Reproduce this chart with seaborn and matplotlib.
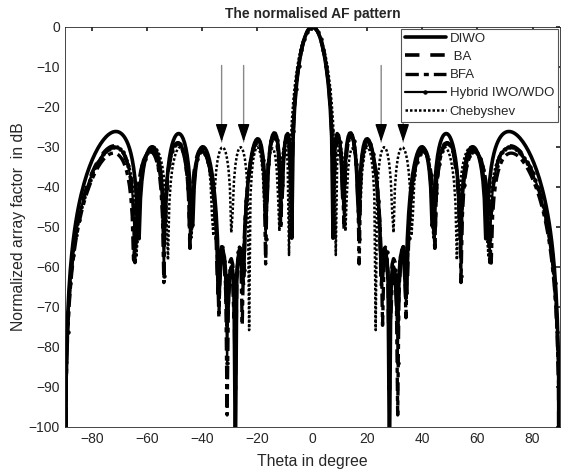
import numpy as np
import pandas as pd
import seaborn as sns
import matplotlib
matplotlib.use("Agg")
import matplotlib.pyplot as plt

# ---- data (symmetric patterns, positive side) ----
# Chebyshev: null angles (deg)
nulls_cheb = [8.47, 12.13, 17.16, 22.99, 29.32, 36.18, 43.81, 52.62, 63.82]

# Optimised patterns: approximate null angles (deg) and side-lobe peak levels (dB)
nulls_diwo = [8.7, 13.6, 19.5, 23.8, 27.5, 31.5, 35.5, 41.5, 52.6, 63.6]
lobes_diwo = [-26.7, -26.5, -28.0, -56.0, -60.0, -56.0, -30.0, -26.7, -30.0, -26.2]

nulls_ba = [8.7, 13.6, 19.5, 24.0, 28.0, 32.0, 36.5, 43.2, 52.5, 63.5]
lobes_ba = [-27.5, -27.0, -28.5, -55.0, -58.0, -55.0, -30.5, -29.0, -30.5, -29.8]

nulls_bfa = [8.7, 13.6, 19.5, 24.3, 28.0, 32.0, 35.8, 41.8, 53.3, 63.9]
lobes_bfa = [-28.0, -27.5, -29.0, -57.0, -62.0, -57.0, -31.0, -29.2, -31.2, -31.6]

nulls_hybrid = [8.7, 13.6, 19.3, 23.5, 27.5, 31.5, 35.8, 40.5, 51.2, 60.9]
lobes_hybrid = [-27.0, -27.0, -28.5, -55.0, -60.0, -55.0, -31.0, -29.0, -31.0, -30.0]

series_names = ["DIWO", " BA", "BFA", "Hybrid IWO/WDO", "Chebyshev"]
arrow_angles = [-33, -25, 25, 33]

theta = np.arange(-90, 90.0001, 0.5)


def af_db(nulls, th):
    psi = np.pi * np.sin(np.radians(th))
    af = np.abs(np.cos(psi / 2))
    ref = 1.0
    for n in nulls:
        c = np.cos(np.pi * np.sin(np.radians(n)))
        af = af * np.abs(np.cos(psi) - c)
        ref *= abs(1 - c)
    with np.errstate(divide="ignore"):
        db = 20 * np.log10(af / ref)
    return np.maximum(db, -300)


def lobe_levels(nulls):
    edges = list(nulls) + [90.0]
    out = []
    for a, b in zip(edges[:-1], edges[1:]):
        th = np.linspace(a, b, 300)[1:-1]
        out.append(af_db(nulls, th).max())
    return np.array(out)


def fit_nulls(nulls0, levels):
    x = np.array(nulls0, float)
    t = np.array(levels, float)
    k = len(x)

    def ok(v):
        return np.all(np.diff(v) > 0.25) and v[0] > 1 and v[-1] < 89.5

    f = lobe_levels(x) - t
    for _ in range(60):
        if np.max(np.abs(f)) < 0.05:
            break
        J = np.empty((k, k))
        h = 0.01
        for j in range(k):
            xp = x.copy()
            xp[j] += h
            J[:, j] = (lobe_levels(xp) - t - f) / h
        dx = np.linalg.lstsq(J, -f, rcond=None)[0]
        s = min(1.0, 1.5 / max(np.max(np.abs(dx)), 1e-9))
        accepted = False
        for _ in range(12):
            xn = x + s * dx
            if ok(xn):
                fn = lobe_levels(xn) - t
                if np.linalg.norm(fn) < np.linalg.norm(f):
                    x, f = xn, fn
                    accepted = True
                    break
            s *= 0.5
        if not accepted:
            break
    return x


series_nulls = [
    fit_nulls(nulls_diwo, lobes_diwo),
    fit_nulls(nulls_ba, lobes_ba),
    fit_nulls(nulls_bfa, lobes_bfa),
    fit_nulls(nulls_hybrid, lobes_hybrid),
    np.array(nulls_cheb),
]

frames = []
for name, nl in zip(series_names, series_nulls):
    frames.append(pd.DataFrame({"theta": theta, "af": af_db(nl, theta), "series": name}))
df = pd.concat(frames, ignore_index=True)

sns.set_theme(style="white")
plt.rcParams["font.family"] = ["Liberation Sans", "DejaVu Sans"]

fig = plt.figure(figsize=(5.63, 4.76), dpi=100)
ax = fig.add_axes([0.1151, 0.1036, 0.8796, 0.8403])

styles = {
    "DIWO": dict(linestyle="-", linewidth=2.6),
    " BA": dict(linestyle=(0, (4, 3)), linewidth=2.6),
    "BFA": dict(linestyle=(0, (4, 1.5, 1.5, 1.5)), linewidth=2.4),
    "Hybrid IWO/WDO": dict(linestyle="-", linewidth=1.6, marker="o", markersize=2.4, markevery=2,
                           markeredgecolor="black", markerfacecolor="black"),
    "Chebyshev": dict(linestyle=(0, (1, 0.8)), linewidth=1.8),
}

for name in series_names:
    sub = df[df["series"] == name]
    sns.lineplot(data=sub, x="theta", y="af", ax=ax, color="black", label=name,
                 estimator=None, errorbar=None, sort=False, **styles[name])

for a in arrow_angles:
    ax.annotate("", xy=(a, -29.5), xytext=(a, -9),
                arrowprops=dict(arrowstyle="-", color="#888888", lw=1.0))
    ax.annotate("", xy=(a, -29.5), xytext=(a, -25),
                arrowprops=dict(arrowstyle="-|>,head_width=0.3,head_length=0.9", color="black", lw=1.0))

ax.set_xlim(-90, 90)
ax.set_ylim(-100, 0)
ax.set_xticks(np.arange(-80, 81, 20))
ax.set_yticks(np.arange(-100, 1, 10))
ax.tick_params(direction="in", top=True, right=True, length=3, labelsize=10, colors="#262626")
for s in ax.spines.values():
    s.set_color("#262626")
    s.set_linewidth(0.6)
ax.set_xlabel("Theta in degree", fontsize=11.3, color="#262626", labelpad=6)
ax.set_ylabel("Normalized array factor  in dB", fontsize=11.3, color="#262626", labelpad=2)
ax.set_title("The normalised AF pattern", fontsize=10, fontweight="bold", pad=6)

leg = ax.legend(loc="upper right", fontsize=9.5, frameon=True, fancybox=False, edgecolor="#555555",
                framealpha=1, borderaxespad=0.15, handlelength=3.1, labelspacing=0.45, borderpad=0.3,
                handletextpad=0.3)
leg.get_frame().set_linewidth(0.8)

fig.savefig("out.png", dpi=100)
